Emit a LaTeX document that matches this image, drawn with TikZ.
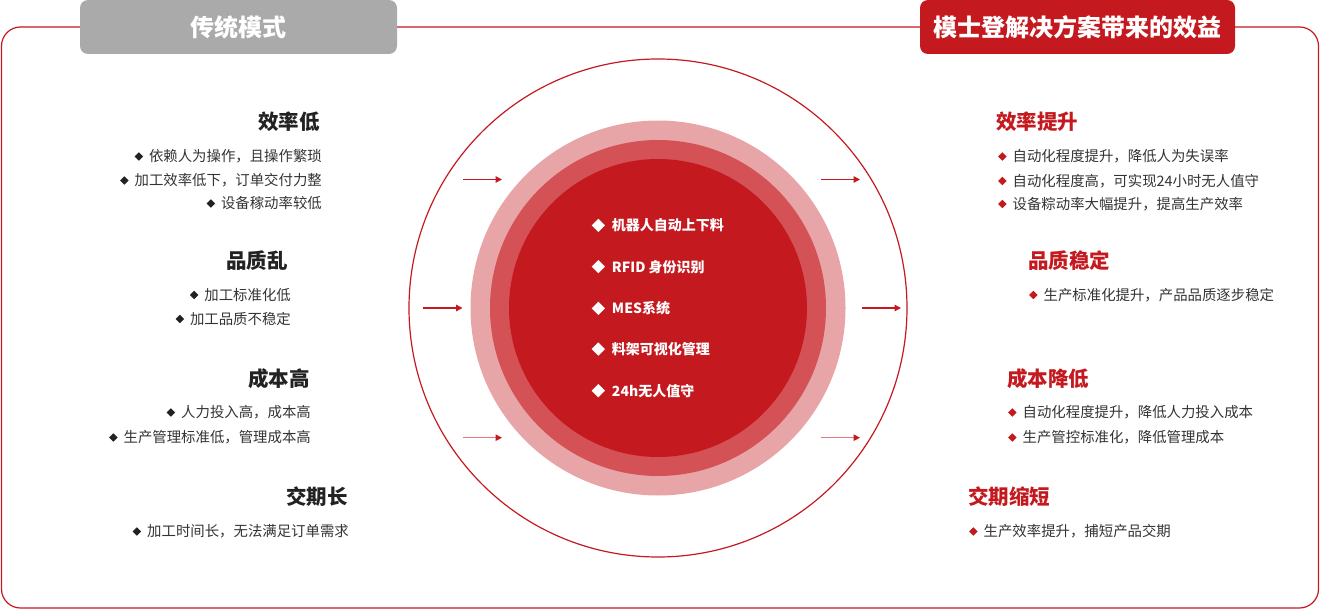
\documentclass[tikz,border=0pt]{standalone}
\usepackage{fontspec}
\setmainfont{Noto Sans CJK SC}
\usepackage{graphicx}
\usetikzlibrary{arrows.meta}
\definecolor{mred}{HTML}{C4191F}
\definecolor{mpink}{HTML}{E8A5A8}
\definecolor{mmid}{HTML}{D45256}
\definecolor{mgray}{HTML}{AAAAAA}
\definecolor{mtext}{HTML}{333333}
\definecolor{mhead}{HTML}{222222}
\definecolor{mshaft}{HTML}{E0787C}
\newcommand\mydmd[2]{\raisebox{#2}{\rotatebox{45}{\rule{#1}{#1}}}}
\newcommand\lbul[1]{{\color{mhead}\mydmd{6pt}{1.23pt}}\hspace{6pt}#1}
\newcommand\rbul[1]{{\color{mred}\mydmd{6pt}{1.23pt}}\hspace{6pt}#1}
\newcommand\cbul[1]{{\color{white}\mydmd{9.4pt}{-1.33pt}}\hspace{7pt}#1}
\tikzset{
  hdr/.style={rounded corners=8pt, minimum height=54pt, inner sep=0pt, text=white,
    font=\fontsize{24pt}{28pt}\selectfont\bfseries},
  lhead/.style={anchor=east, inner sep=0pt, text height=18pt, text depth=2.46pt,
    font=\fontsize{20.5pt}{24pt}\selectfont\bfseries, text=mhead},
  rhead/.style={lhead, anchor=west, text=mred},
  lline/.style={anchor=east, inner sep=0pt, text height=12.67pt, text depth=1.73pt,
    font=\fontsize{14.4pt}{16pt}\selectfont, text=mtext},
  rline/.style={lline, anchor=west},
  cline/.style={anchor=west, inner sep=0pt, text height=12.32pt, text depth=1.68pt,
    font=\fontsize{14pt}{16pt}\selectfont\bfseries, text=white},
  arr/.style={draw=mred, line width=1.3pt, -{Triangle[length=6.5pt,width=6.5pt]}},
  arrl/.style={draw=mshaft, line width=1.3pt, -{Triangle[length=6.5pt,width=6.5pt,color=mred]}},
}
\begin{document}
\begin{tikzpicture}[x=1pt,y=-1pt]
\useasboundingbox (0,0) rectangle (1320,610);
% frame
\draw[mred, line width=1.2pt, rounded corners=19pt] (1.5,27) rectangle (1318.5,608);
% headers
\node[hdr, fill=mgray, minimum width=317pt] (hl) at (238.5,27) {传统模式};
\node[hdr, fill=mred, minimum width=315pt] (hr) at (1077.5,27) {模士登解决方案带来的效益};
% circles
\draw[mred, line width=1.2pt] (658,308) circle[radius=249];
\fill[mpink] (658,308) circle[radius=187.5];
\fill[mmid] (658,308) circle[radius=168];
\fill[mred] (658,308) circle[radius=149];
% center items
\node[cline] (c1) at (591.5,225.3) {\cbul{机器人自动上下料}};
\node[cline] (c2) at (591.5,266.7) {\cbul{RFID 身份识别}};
\node[cline] (c3) at (591.5,308.3) {\cbul{MES系统}};
\node[cline] (c4) at (591.5,349) {\cbul{料架可视化管理}};
\node[cline] (c5) at (591.5,390.7) {\cbul{24h无人值守}};
% arrows
\coordinate (la1s) at (463,179.5); \coordinate (la1e) at (502,179.5);
\coordinate (la2s) at (423,308);   \coordinate (la2e) at (462.5,308);
\coordinate (la3s) at (463,437.7); \coordinate (la3e) at (502,437.7);
\coordinate (ra1s) at (821,179.5); \coordinate (ra1e) at (860,179.5);
\coordinate (ra2s) at (862,308);   \coordinate (ra2e) at (901,308);
\coordinate (ra3s) at (821,437.7); \coordinate (ra3e) at (860,437.7);
\draw[arr] (la1s) -- (la1e);
\draw[arr] (la2s) -- (la2e);
\draw[arrl] (la3s) -- (la3e);
\draw[arr] (ra1s) -- (ra1e);
\draw[arr] (ra2s) -- (ra2e);
\draw[arrl] (ra3s) -- (ra3e);
% left groups
\node[lhead] (l1h) at (320,121.5) {效率低};
\node[lline] (l1a) at (322,156.5) {\lbul{依赖人为操作，且操作繁琐}};
\node[lline] (l1b) at (322,180.5) {\lbul{加工效率低下，订单交付力整}};
\node[lline] (l1c) at (322,203.5) {\lbul{设备稼动率较低}};
\node[lhead] (l2h) at (288,261) {品质乱};
\node[lline] (l2a) at (291,295) {\lbul{加工标准化低}};
\node[lline] (l2b) at (291,319) {\lbul{加工品质不稳定}};
\node[lhead] (l3h) at (310,378.5) {成本高};
\node[lline] (l3a) at (311,412.5) {\lbul{人力投入高，成本高}};
\node[lline] (l3b) at (311,437.5) {\lbul{生产管理标准低，管理成本高}};
\node[lhead] (l4h) at (348,496.5) {交期长};
\node[lline] (l4a) at (349,531.5) {\lbul{加工时间长，无法满足订单需求}};
% right groups
\node[rhead] (r1h) at (996,121.5) {效率提升};
\node[rline] (r1a) at (998,156.5) {\rbul{自动化程度提升，降低人为失误率}};
\node[rline] (r1b) at (998,181) {\rbul{自动化程度高，可实现24小时无人值守}};
\node[rline] (r1c) at (998,204) {\rbul{设备粽动率大幅提升，提高生产效率}};
\node[rhead] (r2h) at (1028,261) {品质稳定};
\node[rline] (r2a) at (1029,295) {\rbul{生产标准化提升，产品品质逐步稳定}};
\node[rhead] (r3h) at (1007,378.5) {成本降低};
\node[rline] (r3a) at (1008,412.5) {\rbul{自动化程度提升，降低人力投入成本}};
\node[rline] (r3b) at (1008,437.5) {\rbul{生产管控标准化，降低管理成本}};
\node[rhead] (r4h) at (968,496.5) {交期缩短};
\node[rline] (r4a) at (969,531.5) {\rbul{生产效率提升，捕短产品交期}};
\end{tikzpicture}
\end{document}
